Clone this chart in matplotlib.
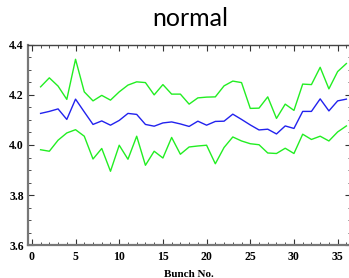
import matplotlib
matplotlib.use("Agg")
import matplotlib.pyplot as plt
from matplotlib.ticker import MultipleLocator

bunch = list(range(1, 37))
upper = [4.232, 4.268, 4.235, 4.182, 4.342, 4.212, 4.176, 4.198, 4.179, 4.212,
         4.239, 4.252, 4.249, 4.200, 4.241, 4.203, 4.203, 4.163, 4.188, 4.191,
         4.192, 4.236, 4.255, 4.249, 4.146, 4.147, 4.192, 4.106, 4.163, 4.138,
         4.243, 4.241, 4.310, 4.224, 4.293, 4.325]
mean = [4.126, 4.134, 4.144, 4.102, 4.183, 4.132, 4.082, 4.096, 4.079, 4.098,
        4.126, 4.122, 4.082, 4.075, 4.088, 4.092, 4.084, 4.074, 4.095, 4.079,
        4.094, 4.095, 4.123, 4.102, 4.080, 4.060, 4.063, 4.044, 4.076, 4.066,
        4.134, 4.134, 4.184, 4.136, 4.176, 4.183]
lower = [3.981, 3.975, 4.019, 4.048, 4.061, 4.035, 3.944, 3.986, 3.895, 3.999,
         3.943, 4.035, 3.919, 3.975, 3.948, 4.030, 3.963, 3.992, 3.996, 3.999,
         3.925, 3.990, 4.032, 4.016, 4.005, 4.001, 3.968, 3.966, 3.987, 3.966,
         4.043, 4.022, 4.035, 4.016, 4.052, 4.076]

fig = plt.figure(figsize=(3.49, 2.78), dpi=100)
ax = fig.add_axes([0.080, 0.118, 0.925, 0.721])
ax.plot(bunch, upper, color="#22ee22", lw=1.0)
ax.plot(bunch, mean, color="#2222ee", lw=1.0)
ax.plot(bunch, lower, color="#22ee22", lw=1.0)

ax.set_xlim(-0.45, 36.5)
ax.set_ylim(3.6, 4.4)
ax.xaxis.set_major_locator(MultipleLocator(5))
ax.xaxis.set_minor_locator(MultipleLocator(1))
ax.yaxis.set_major_locator(MultipleLocator(0.2))
ax.yaxis.set_minor_locator(MultipleLocator(0.05))
ax.tick_params(which="both", direction="in", top=True, right=True, colors="#333333")
ax.tick_params(which="major", length=4, width=0.8)
ax.tick_params(which="minor", length=2, width=0.6)
for lab in ax.get_xticklabels() + ax.get_yticklabels():
    lab.set_fontfamily("Liberation Serif")
    lab.set_fontweight("bold")
    lab.set_fontsize(8.5)
    lab.set_color("black")
ax.tick_params(axis="x", pad=4)
ax.tick_params(axis="y", pad=3)
for s in ax.spines.values():
    s.set_color("#777777")
    s.set_linewidth(1.6)
ax.spines["top"].set_color("#444444")
ax.spines["top"].set_linewidth(1.0)

ax.set_xlabel("Bunch No.", fontfamily="Liberation Serif", fontweight="bold", fontsize=8, labelpad=5)
fig.text(0.545, 0.935, "normal", ha="center", va="center", fontfamily="Lato", fontsize=18)

fig.savefig("out.png", dpi=100)
